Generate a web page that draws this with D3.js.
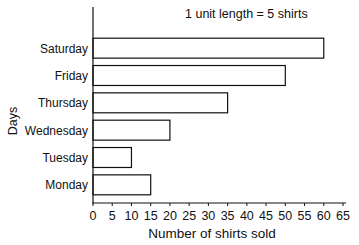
<!DOCTYPE html>
<html><head><meta charset="utf-8">
<script src="https://cdn.jsdelivr.net/npm/d3@7"></script>
<style>body{margin:0;background:#fff}svg{display:block}text{font-family:"Liberation Sans",Arial,sans-serif;fill:#111}</style>
</head><body><svg id="c" width="359" height="245"></svg>
<script>
const days = ["Monday","Tuesday","Wednesday","Thursday","Friday","Saturday"];
const shirts = [15,10,20,35,50,60];
const xTicks = [0,5,10,15,20,25,30,35,40,45,50,55,60,65];

const svg = d3.select("#c");
const x = d3.scaleLinear().domain([0,65]).range([93,343]);
const y = d3.scaleBand().domain(days).range([198.5,34.5]).paddingInner(0.27).paddingOuter(0.135);

svg.selectAll("rect.bar").data(days).join("rect")
  .attr("x", x(0)).attr("y", d=>y(d))
  .attr("width", (d,i)=>x(shirts[i])-x(0)).attr("height", y.bandwidth())
  .attr("fill","#fff").attr("stroke","#111").attr("stroke-width",1.2);

svg.append("line").attr("x1",93).attr("x2",93).attr("y1",7).attr("y2",203).attr("stroke","#111").attr("stroke-width",1.2);
svg.selectAll("text.day").data(days).join("text")
  .attr("x",88).attr("y",d=>y(d)+y.bandwidth()/2+4.5).attr("text-anchor","end").attr("font-size",12).text(d=>d);

svg.append("line").attr("x1",92).attr("x2",346).attr("y1",203).attr("y2",203).attr("stroke","#111").attr("stroke-width",1.2);
svg.selectAll("line.tick").data(xTicks).join("line")
  .attr("x1",d=>x(d)).attr("x2",d=>x(d)).attr("y1",203).attr("y2",206).attr("stroke","#111");
svg.selectAll("text.tl").data(xTicks).join("text")
  .attr("x",d=>x(d)).attr("y",219.5).attr("text-anchor","middle").attr("font-size",12.5).text(d=>d);

svg.append("text").attr("x",212).attr("y",237.5).attr("text-anchor","middle").attr("font-size",13.5).text("Number of shirts sold");
svg.append("text").attr("transform","translate(17,121) rotate(-90)").attr("text-anchor","middle").attr("font-size",12.5).text("Days");
svg.append("text").attr("x",185).attr("y",18).attr("font-size",12.5).text("1 unit length = 5 shirts");
</script></body></html>
